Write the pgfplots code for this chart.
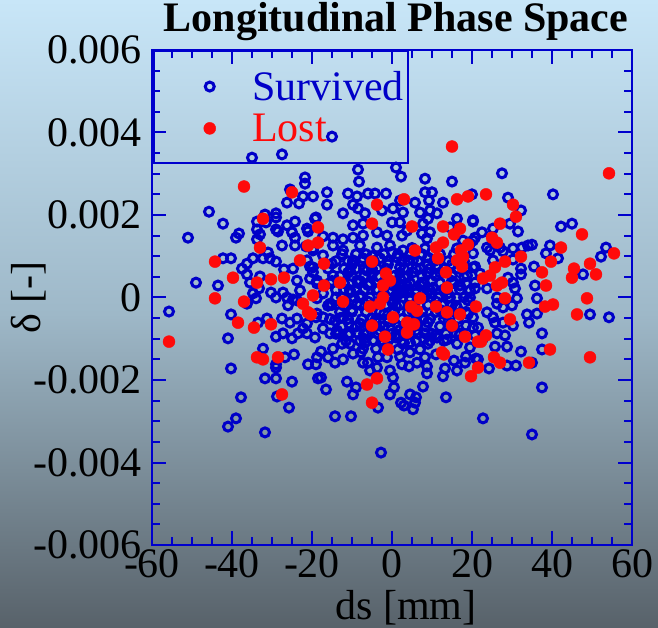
\documentclass[border=0pt]{standalone}
\usepackage{pgfplots}
\pgfplotsset{compat=1.18}
\usepackage{fontspec}
\setmainfont{Liberation Serif}
\definecolor{axblue}{RGB}{0,0,205}
\definecolor{ptblue}{RGB}{0,0,200}
\definecolor{ptred}{RGB}{255,10,10}
\definecolor{bgtop}{RGB}{200,230,248}
\definecolor{bgmid}{RGB}{158,184,200}
\definecolor{bgbot}{RGB}{88,98,106}
\pgfplotsset{myleg/.style={legend image code/.code={\path (0pt,-4pt) (92pt,4pt); \draw[##1] plot coordinates {(51pt,0pt)};}}}
\begin{document}
\begin{tikzpicture}
\shade[top color=bgtop, bottom color=bgbot, middle color=bgmid] (0pt,0pt) rectangle (658pt,627pt);
\begin{axis}[
  at={(152pt,82pt)}, anchor=south west,
  width=480pt, height=495pt, scale only axis,
  xmin=-60, xmax=60, ymin=-0.006, ymax=0.006,
  xtick={-60,-40,...,60}, xticklabels={-60,-40,-20,0,20,40,60},
  ytick={-0.006,-0.004,-0.002,0,0.002,0.004,0.006},
  yticklabels={-0.006,-0.004,-0.002,0,0.002,0.004,0.006},
  scaled y ticks=false,
  minor tick num=3,
  tick align=inside,
  major tick length=14pt, minor tick length=8pt,
  axis line style={axblue, line width=2.5pt},
  tick style={axblue, line width=2pt},
  ticklabel style={font=\fontsize{42}{48}\selectfont, text=black},
  xticklabel style={inner sep=0pt, yshift=-4pt},
  yticklabel style={inner sep=0pt, xshift=-10pt},
  title={Longitudinal Phase Space},
  title style={font=\fontsize{42}{48}\selectfont\bfseries, at={(axis description cs:0.5,1)}, anchor=base, yshift=12pt, xshift=4pt, inner sep=0pt},
  xlabel={ds [mm]},
  xlabel style={font=\fontsize{42}{48}\selectfont, at={(axis description cs:0.529,-0.150)}, anchor=base, inner sep=0pt},
  ylabel={δ [-]},
  ylabel style={font=\fontsize{42}{48}\selectfont, at={(axis description cs:-0.233,0.5)}, anchor=base, inner sep=0pt},
  legend style={at={(0,1)}, anchor=north west, draw=axblue, line width=2.5pt, fill=none, font=\fontsize{42}{48}\selectfont, inner xsep=4pt, inner ysep=20pt, row sep=12pt, nodes={inner sep=0pt}},
  legend cell align=left,
]
\addplot[only marks, mark=o, mark size=4.5pt, color=ptblue, line width=3pt, mark options={line width=3pt, solid}, myleg] coordinates {
(-35,0.00339) (-27.5,0.00347) (-15,0.00390) (-8.5,0.00310) (-8.25,0.00281) (1,0.00315) (2.25,0.00293) (8.25,0.00288) (15,0.00281)
(-21.75,0.00291) (-21.75,0.00276) (-25.5,0.00262) (-19.75,0.00245) (-22.25,0.00245) (-26.25,0.00230) (-23.25,0.00228) (-45.75,0.00208) (-42.25,0.00179) (-31.75,0.00201) (-29,0.00204) (-29,0.00194) (-33.75,0.00184) (-31.5,0.00182) (-24.25,0.00184) (-26.25,0.00175) (-19,0.00194) (-33.75,0.00165) (-29,0.00165) (-28.5,0.00160) (-25,0.00158) (-21.25,0.00167) (-21,0.00160) (-33,0.00153) (-51,0.00145) (-38.25,0.00155) (-39,0.00145) (-33.75,0.00141) (-24.25,0.00145) (-27.5,0.00126) (-24.25,0.00126) (-21.5,0.00124) (-19.75,0.00119) (-31,0.00109) (-34.75,0.00095) (-32.25,0.00095) (-30.5,0.00095) (-29,0.00087) (-42.25,0.00095) (-40.25,0.00095) (-36.25,0.00082) (-37.5,0.00070) (-36.25,0.00056) (-35.5,0.00036) (-33,0.00051) (-27,0.00068) (-24.75,0.00070) (-21.25,0.00090) (-20.5,0.00075) (-19.75,0.00061) (-20.5,0.00046) (-23.75,0.00041) (-18.75,0.00034) (-49,0.00036) (-43.5,0.00029) (-33.25,0.00022) (-34.75,0.00010) (-34,-0.00002) (-30.25,0.00012) (-29,0) (-27.25,0.00012) (-26.25,0) (-23,0.00017) (-24.75,-0.00005) (-26,-0.00019) (-36.25,-0.00015) (-55.75,-0.00034)
(-40.25,-0.00041) (-41,-0.00099) (-40.25,-0.00172) (-37.75,-0.00242) (-39,-0.00293) (-41,-0.00313) (-31.75,-0.00327) (-25.75,-0.00267) (-28.75,-0.00240) (-31.75,-0.00196) (-29,-0.00196) (-25,-0.00204) (-29,-0.00170) (-29,-0.00162) (-32.25,-0.00124) (-24.5,-0.00138) (-26.75,-0.00145) (-21,-0.00162) (-19,-0.00162) (-18.75,-0.00145) (-18.5,-0.00196) (-33.5,-0.00061) (-31.25,-0.00051) (-27.5,-0.00051) (-25.5,-0.00061) (-23.75,-0.00051) (-27.25,-0.00087) (-29,-0.00095) (-25,-0.00099) (-23.5,-0.00087) (-22.25,-0.00075) (-21.25,-0.00087) (-19.25,-0.00097) (-21.25,-0.00063) (-19,-0.00048) (-23.75,-0.00007) (-18.75,-0.00002)
(-17.75,-0.00131) (-16,-0.00145) (-14.75,-0.00124) (-12.25,-0.00150) (-14.25,-0.00158) (-17.75,-0.00194) (-16.5,-0.00223) (-11.25,-0.00204) (-9,-0.00218) (-9.75,-0.00235) (-14.25,-0.00288) (-10.25,-0.00288) (-7.75,-0.00133) (-7.25,-0.00158) (-5.5,-0.00177) (-3.75,-0.00170) (-0.5,-0.00177) (0.25,-0.00194) (0.5,-0.00218) (-0.5,-0.00235) (2.25,-0.00255) (3,-0.00262) (4.5,-0.00235) (6,-0.00242) (5.25,-0.00271) (5.75,-0.00255) (-3.5,-0.00267) (-2.75,-0.00376) (7.75,-0.00216) (8.75,-0.00184) (13.5,-0.00242) (12.75,-0.00191) (13.25,-0.00172) (16.25,-0.00177) (15.5,-0.00153) (18.25,-0.00158) (18.5,-0.00143) (21,-0.00148) (8.75,-0.00167) (6.25,-0.00158) (4.25,-0.00167) (2.5,-0.00162) (2,-0.00143) (4.5,-0.00133) (7,-0.00126) (8.25,-0.00145) (11,-0.00138) (1.5,-0.00126) (-1.25,-0.00145) (-3.5,-0.00145) (-6,-0.00158) (-7.25,-0.00124) (-4,-0.00124) (-9.75,-0.00136) (-10.5,-0.00112) (-12.5,-0.00112) (-13.25,-0.00087) (-15.5,-0.00087) (-17.25,-0.00075) (-13.75,-0.00080) (13.75,-0.00102) (16.25,-0.00112) (19.5,-0.00121) (16,-0.00087) (20.25,-0.00048) (21.5,-0.00073) (18.5,-0.00068) (11.25,-0.00097) (8.25,-0.00087) (9,-0.00112) (4.5,-0.00109) (2.75,-0.00112) (1,-0.00097) (2,-0.00078) (-0.5,-0.00099) (-2.5,-0.00104) (-4.75,-0.00104) (-6.75,-0.00109) (-6.25,-0.00087) (-8.75,-0.00085) (-10.75,-0.00063) (-8,-0.00063) (-12.25,-0.00048) (-14.25,-0.00056) (-17.25,-0.00048) (-18.75,-0.00039)
(36.25,-0.00002) (31.25,-0.00002) (26.25,0) (23.75,-0.00036) (33.75,-0.00041) (36.25,-0.00039) (34.25,-0.00061) (30.25,-0.00068) (27.75,-0.00061) (25.75,-0.00061) (25.25,-0.00048) (27.75,-0.00024) (30,-0.00019) (37.5,-0.00087) (28.25,-0.00092) (26.25,-0.00087) (20.25,-0.00073) (20.75,-0.00092) (22.75,-0.00099) (25.75,-0.00119) (28.75,-0.00119) (32.25,-0.00131) (37.5,-0.00126) (21.5,-0.00150) (24.25,-0.00172) (28.75,-0.00165) (31,-0.00165) (35,-0.00158) (37.5,-0.00218) (22.75,-0.00293) (35,-0.00332) (49.5,-0.00041) (54.25,-0.00048)
(27.5,0.00301) (40.25,0.00250) (20,0.00250) (29,0.00242) (32.25,0.00211) (20.25,0.00184) (29.5,0.00179) (31.5,0.00160) (42.25,0.00172) (45,0.00179) (25.25,0.00167) (22.5,0.00158) (20.75,0.00145) (19.5,0.00131) (20.25,0.00107) (23.75,0.00121) (24.5,0.00114) (27,0.00121) (27.75,0.00112) (30.25,0.00119) (32.5,0.00121) (34,0.00126) (35,0.00128) (39.5,0.00126) (38.5,0.00107) (41.5,0.00095) (53.5,0.00121) (52.25,0.00099) (47.75,0.00056) (30.25,0.00092) (32.25,0.00070) (32.25,0.00056) (35.5,0.00075) (29,0.00048) (30.25,0.00036) (35.75,0.00029) (30.75,0.00022) (20.75,0.00075) (22,0.00058) (20.75,0.00022) (23.75,0.00022) (26.25,-0.00015) (19.5,0) (25.25,0.00090)
(-16.25,0.00255) (-16.25,0.00225) (-11,0.00252) (-8.75,0.00245) (-6,0.00252) (-4.25,0.00252) (-1.5,0.00252) (2,0.00235) (5.75,0.00230) (8.25,0.00255) (10,0.00255) (9.25,0.00235) (12.75,0.00230) (16.25,0.00191) (20.25,0.00187) (-12.25,0.00204) (-9.75,0.00225) (-8.5,0.00216) (-6.75,0.00204) (-2.5,0.00211) (0.25,0.00216) (2.75,0.00206) (7,0.00206) (9.5,0.00211) (11.25,0.00204) (-19.25,0.00191) (-9.75,0.00175) (-7.25,0.00179) (0,0.00182) (2,0.00182) (7.75,0.00179) (9,0.00191) (-17.25,0.00148) (-14.75,0.00145) (-12.25,0.00141) (-14.75,0.00126) (-9.75,0.00145) (-7.25,0.00150) (-3.75,0.00158) (-1.25,0.00150) (2.5,0.00150) (3.75,0.00162) (7.5,0.00155) (8.75,0.00143) (9.5,0.00158) (14.5,0.00170) (20.25,0.00138) (17.75,0.00138) (16.25,0.00119) (-19.75,0.00114) (-17.25,0.00102) (-12.25,0.00114) (-8,0.00126) (-3.75,0.00121) (-0.5,0.00126) (2.75,0.00114) (8.25,0.00119) (9,0.00097) (20.25,0.00073) (-19.75,0.00073) (-15,0.00082) (-9.75,0.00090) (-7.25,0.00095) (-3,0.00095) (1.25,0.00097) (5.25,0.00090) (-14.75,0.00053) (-10.5,0.00065) (-6.25,0.00065) (-3.75,0.00070) (2,0.00073) (5.25,0.00061) (8.75,0.00061) (11.25,0.00073) (18.75,0.00053) (20.75,0.00036) (-18.75,0.00041) (-8.75,0.00041) (-5.5,0.00034) (2,0.00046) (3.75,0.00029) (7.5,0.00036) (10.25,0.00024) (17,0.00029) (19.5,0.00017) (-17.25,0.00010) (-10.5,0.00012) (-8,0.00005) (1.25,0.00010) (2.75,0.00017) (8.75,0.00010) (16.25,0) (19,-0.00007) (-15.5,-0.00015) (-8.75,-0.00015) (0.25,-0.00012) (4.5,-0.00007) (12.75,-0.00015) (16.25,-0.00024)
(-12,0.0002) (-10,-0.0003) (-8,0.0004) (-6,-0.0001) (-4,0.0002) (-2,-0.0004) (0,0.0003) (1,-0.0002) (3,0.0005) (5,-0.0003) (6,0.0001) (8,-0.0005) (10,0.0004) (11,-0.0001) (13,0.0002) (14,-0.0006) (-11,0.0006) (-7,0.0007) (-3,0.0005) (-1,0.0008) (2,0.0006) (4,0.0009) (7,0.0007) (9,0.0008) (12,0.0006) (15,0.0004) (-13,-0.0005) (-9,-0.0007) (-5,-0.0005) (-3,-0.0008) (-1,-0.0006) (1,-0.0009) (3,-0.0007) (6,-0.0008) (9,-0.0006) (11,-0.0009) (13,-0.0004) (16,-0.0002) (-14,0.0000) (-12,-0.0002) (-8,0.0000) (-6,0.0003) (-4,-0.0006) (-2,0.0001) (0,-0.0001) (2,0.0001) (4,0.0002) (6,-0.0006) (8,0.0000) (10,0.0001) (12,-0.0003) (14,0.0001) (-10,0.0008) (-5,0.0010) (0,0.0011) (5,0.0012) (10,0.0011) (-7,-0.0010) (-2,-0.0011) (3,-0.0011) (8,-0.0010) (15,0.0008) (17,-0.0009) (-15,0.0004) (-16,-0.0002) (18,0.0005) (19,-0.0004) (-11,-0.0009) (7,0.0003) (1,0.0004) (-5,0.0006) (-9,0.0002)
(-12.5,0.00105) (-9,0.00105) (-6.5,0.00105) (-2,0.00105) (1.5,0.00105) (4.5,0.00105) (7.5,0.00105) (12,0.00105) (15.5,0.00105)
(-14,0.00088) (-11,0.00088) (-7.5,0.00088) (-4.5,0.00088) (-1,0.00088) (2.5,0.00088) (6.5,0.00088) (10.5,0.00088) (14,0.00088) (18,0.00088)
(-16,0.00070) (-12,0.00070) (-9,0.00070) (-5,0.00070) (-1.5,0.00070) (3,0.00070) (6,0.00070) (9.5,0.00070) (13,0.00070) (16.5,0.00070)
(-13,0.00052) (-10,0.00052) (-7,0.00052) (-3.5,0.00052) (0.5,0.00052) (4,0.00052) (7.5,0.00052) (11,0.00052) (15,0.00052)
(-15.5,0.00035) (-12,0.00035) (-8.5,0.00035) (-5.5,0.00035) (-2,0.00035) (1,0.00035) (4.5,0.00035) (8,0.00035) (12,0.00035) (15.5,0.00035) (18.5,0.00035)
(-14,0.00018) (-10.5,0.00018) (-7,0.00018) (-3.5,0.00018) (-0.5,0.00018) (3,0.00018) (6,0.00018) (9.5,0.00018) (13,0.00018) (17,0.00018)
(-12.5,0) (-9.5,0) (-5.5,0) (-2.5,0) (1,0) (4.5,0) (8,0) (11.5,0) (14.5,0) (18,0)
(-15,-0.00018) (-11.5,-0.00018) (-8,-0.00018) (-4.5,-0.00018) (-1.5,-0.00018) (2,-0.00018) (5.5,-0.00018) (9,-0.00018) (12.5,-0.00018) (15,-0.00018)
(-13,-0.00035) (-10,-0.00035) (-6.5,-0.00035) (-3,-0.00035) (0.5,-0.00035) (4,-0.00035) (7.5,-0.00035) (11,-0.00035) (14.5,-0.00035) (18.5,-0.00035)
(-15.5,-0.00052) (-11,-0.00052) (-7.5,-0.00052) (-4,-0.00052) (-1,-0.00052) (2.5,-0.00052) (6,-0.00052) (9.5,-0.00052) (13,-0.00052) (16.5,-0.00052)
(-12.5,-0.00070) (-9,-0.00070) (-5.5,-0.00070) (-2,-0.00070) (1.5,-0.00070) (5,-0.00070) (8.5,-0.00070) (12,-0.00070) (15.5,-0.00070)
(-14,-0.00088) (-10.5,-0.00088) (-7,-0.00088) (-3.5,-0.00088) (0,-0.00088) (3.5,-0.00088) (6.5,-0.00088) (10,-0.00088) (13.5,-0.00088) (17,-0.00088)
(-11.5,-0.00105) (-8,-0.00105) (-4.5,-0.00105) (-1,-0.00105) (2.5,-0.00105) (6,-0.00105) (9.5,-0.00105) (13,-0.00105)
};
\addlegendentry{\textcolor{ptblue}{Survived}}
\addplot[only marks, mark=*, mark size=6pt, color=ptred, mark options={line width=0.4pt}, myleg] coordinates {
(-37,0.00269) (-25,0.00255) (-32.25,0.00191) (-33,0.00121) (-44.25,0.00087) (-23,0.00090) (-39.75,0.00048) (-30.25,0.00044) (-27,0.00048) (-33.75,0.00036) (-44.25,-0.00002) (-37,-0.00010) (-19.75,0.00005) (-22.25,-0.00015) (-18.5,0.00170) (-18.5,0.00133)
(-3.75,0.00225) (3,0.00238) (16.25,0.00238) (19,0.00245) (-5,0.00179) (5,0.00172) (12.75,0.00172) (17,0.00167) (15.5,0.00153) (-21,0.00126) (5.75,0.00114) (11,0.00121) (12.75,0.00133) (19,0.00128) (17.25,0.00114) (17.75,0.00099) (11.5,0.00095) (16.25,0.00090) (17.5,0.00075) (13.5,0.00061) (-17,0.00082) (-5,0.00087) (-1.5,0.00058) (-0.5,0.00041) (-2.25,0.00029) (-13,0.00036) (-17,0.00029) (13.75,0.00024) (-12.25,-0.00010) (-5.5,-0.00022) (-2.25,0) (-3,-0.00015) (4.75,-0.00022) (7,-0.00002) (11,-0.00022) (21,-0.00022)
(54.25,0.00301) (23.5,0.00250) (30.25,0.00225) (31,0.00196) (27,0.00179) (25,0.00145) (26.25,0.00133) (47.5,0.00153) (42.25,0.00121) (55.5,0.00107) (32.25,0.00099) (28.25,0.00087) (39.75,0.00087) (49.5,0.00082) (45.5,0.00070) (45,0.00048) (51,0.00056) (37.5,0.00061) (25.75,0.00073) (24.5,0.00053) (22.75,0.00046) (27.5,0.00036) (26.25,0.00029) (38.5,0.00029) (28.25,-0.00002) (48.75,-0.00002) (40.25,-0.00017) (38.25,-0.00022)
(-21,-0.00036) (-20.25,-0.00041) (-38.5,-0.00061) (-34.5,-0.00073) (-30.25,-0.00065) (-55.75,-0.00107) (-33.75,-0.00145) (-32.25,-0.00150) (-28.5,-0.00145) (-27.5,-0.00235)
(6.25,-0.00032) (13.75,-0.00036) (17,-0.00041) (15,-0.00068) (0.25,-0.00048) (3.75,-0.00061) (5.5,-0.00065) (-5,-0.00068) (-1.75,-0.00095) (3.75,-0.00085) (18.25,-0.00095) (21.5,-0.00107) (-1,-0.00126) (12.5,-0.00133) (13,-0.00138) (21.5,-0.00170) (19.75,-0.00191) (-3.75,-0.00196) (-6.25,-0.00211) (-5,-0.00255)
(29.5,-0.00053) (23.5,-0.00092) (22.25,-0.00107) (39.5,-0.00126) (49.5,-0.00145) (25.5,-0.00145) (27,-0.00158) (34.25,-0.00158) (46.25,-0.00041) (15,0.00366)
};
\addlegendentry{\textcolor{ptred}{Lost}}
\end{axis}
\pgfresetboundingbox
\useasboundingbox (0pt,0pt) rectangle (658pt,627pt);
\end{tikzpicture}
\end{document}
